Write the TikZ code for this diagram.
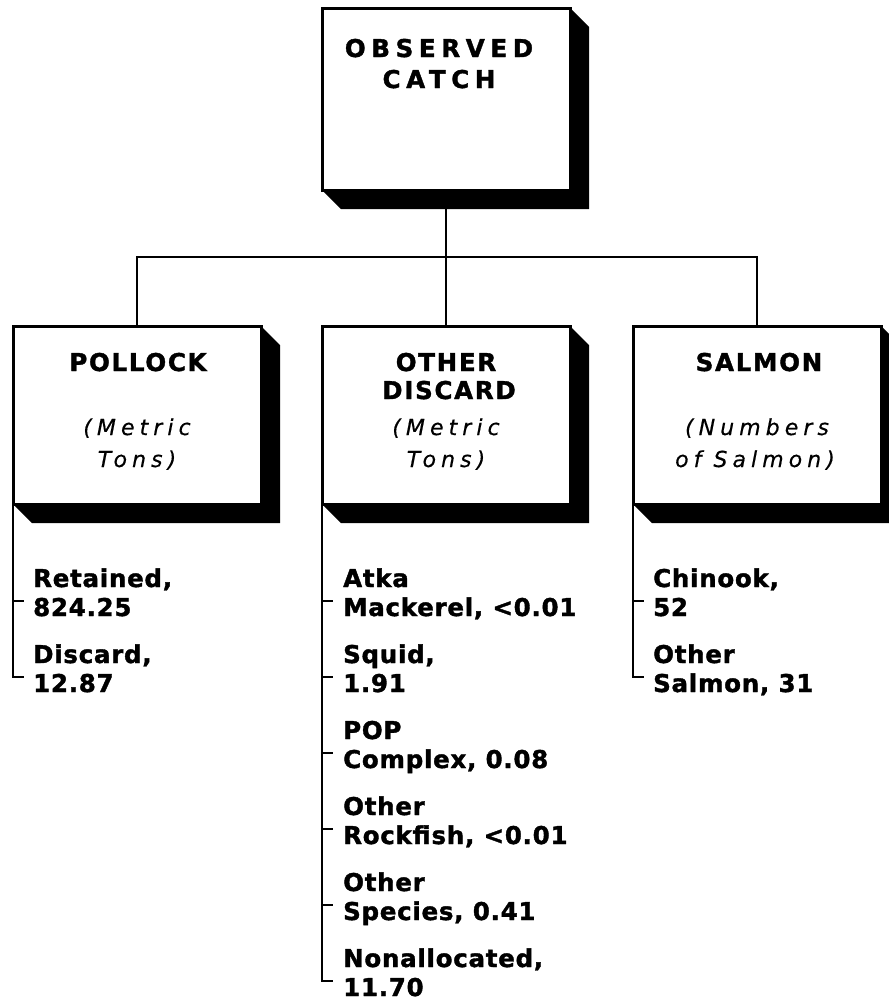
\documentclass[tikz,border=0pt]{standalone}
\usepackage{fontspec}
\setmainfont{DejaVu Sans}
\newfontfamily\topfont{DejaVu Sans Bold}[LetterSpace=23,FakeBold=1.5]
\newfontfamily\headfont{DejaVu Sans Bold}[LetterSpace=7,FakeBold=1.5]
\newfontfamily\itemfont{DejaVu Sans Bold}[LetterSpace=3,FakeBold=1.5]
\newfontfamily\unitfont{DejaVu Sans Oblique}[LetterSpace=23,FakeBold=0.4]
\newcommand\dropshade[1]{%
  \fill (#1.north east) -- ([shift={(19,19)}]#1.north east)
     -- ([shift={(19,19)}]#1.south east) -- ([shift={(19,19)}]#1.south west)
     -- (#1.south west) -- (#1.south east) -- cycle;}
\begin{document}
\begin{tikzpicture}[x=1pt,y=-1pt,
  box/.style={draw,line width=3pt,fill=white,minimum width=248pt,inner sep=0pt,outer sep=0pt},
  conn/.style={line width=2.6pt},
  toptxt/.style={font=\topfont\fontsize{24.5}{28}\selectfont,anchor=base,inner sep=0pt},
  headtxt/.style={font=\headfont\fontsize{24.5}{28}\selectfont,anchor=base,inner sep=0pt},
  unittxt/.style={font=\unitfont\fontsize{22}{25}\selectfont,anchor=base,inner sep=0pt},
  itemtxt/.style={font=\itemfont\fontsize{24.5}{28}\selectfont,anchor=base west,inner sep=0pt}]
\useasboundingbox (0,0) rectangle (889,1002);
\fill[white] (0,0) rectangle (889,1002);
\coordinate (bar) at (446,257);
% boxes
\node[box,minimum height=182pt] (top) at (446,99) {};
\node[box,minimum height=178pt] (pol) at (137,415) {};
\node[box,minimum height=178pt] (oth) at (446,415) {};
\node[box,minimum height=178pt] (sal) at (757,415) {};
% connectors
\draw[conn] (top.south) -- (oth.north);
\draw[conn] (pol.north) -- (pol.north |- bar) -- (sal.north |- bar) -- (sal.north);
% shadows
\dropshade{top}
\dropshade{pol}
\dropshade{oth}
\dropshade{sal}
% box texts
\node[toptxt] (t1) at (439,57) {OBSERVED};
\node[toptxt] (t2) at (439,88) {CATCH};
\node[headtxt] (p1) at (138,371) {POLLOCK};
\node[unittxt] (p2) at (137,435) {(Metric};
\node[unittxt] (p3) at (137,467) {Tons)};
\node[headtxt] (o1) at (446,371) {OTHER};
\node[headtxt] (o2) at (449,399) {DISCARD};
\node[unittxt] (o3) at (446,435) {(Metric};
\node[unittxt] (o4) at (446,467) {Tons)};
\node[headtxt] (s1) at (759,371) {SALMON};
\node[unittxt] (s2) at (757,435) {(Numbers};
\node[unittxt] (s3) at (755,467) {of Salmon)};
% pollock list
\node[itemtxt] (pa1) at (33,587) {Retained,};
\node[itemtxt] (pa2) at (33,616) {824.25};
\node[itemtxt] (pb1) at (33,663) {Discard,};
\node[itemtxt] (pb2) at (33,692) {12.87};
\coordinate (pta) at (24,601);
\coordinate (ptb) at (24,677);
\draw[conn] (pol.south west) -- (pol.south west |- ptb) -- (ptb);
\draw[conn] (pol.south west |- pta) -- (pta);
% other discard list
\node[itemtxt] (oa1) at (343,587) {Atka};
\node[itemtxt] (oa2) at (343,616) {Mackerel, <0.01};
\node[itemtxt] (ob1) at (343,663) {Squid,};
\node[itemtxt] (ob2) at (343,692) {1.91};
\node[itemtxt] (oc1) at (343,739) {POP};
\node[itemtxt] (oc2) at (343,768) {Complex, 0.08};
\node[itemtxt] (od1) at (343,815) {Other};
\node[itemtxt] (od2) at (343,844) {Rockfish, <0.01};
\node[itemtxt] (oe1) at (343,891) {Other};
\node[itemtxt] (oe2) at (343,920) {Species, 0.41};
\node[itemtxt] (of1) at (343,967) {Nonallocated,};
\node[itemtxt] (of2) at (343,996) {11.70};
\coordinate (ota) at (333,601);
\coordinate (otb) at (333,677);
\coordinate (otc) at (333,753);
\coordinate (otd) at (333,829);
\coordinate (ote) at (333,905);
\coordinate (otf) at (333,981);
\draw[conn] (oth.south west) -- (oth.south west |- otf) -- (otf);
\foreach \t in {ota,otb,otc,otd,ote}{\draw[conn] (oth.south west |- \t) -- (\t);}
% salmon list
\node[itemtxt] (sa1) at (653,587) {Chinook,};
\node[itemtxt] (sa2) at (653,616) {52};
\node[itemtxt] (sb1) at (653,663) {Other};
\node[itemtxt] (sb2) at (653,692) {Salmon, 31};
\coordinate (sta) at (644,601);
\coordinate (stb) at (644,677);
\draw[conn] (sal.south west) -- (sal.south west |- stb) -- (stb);
\draw[conn] (sal.south west |- sta) -- (sta);
\end{tikzpicture}
\end{document}
